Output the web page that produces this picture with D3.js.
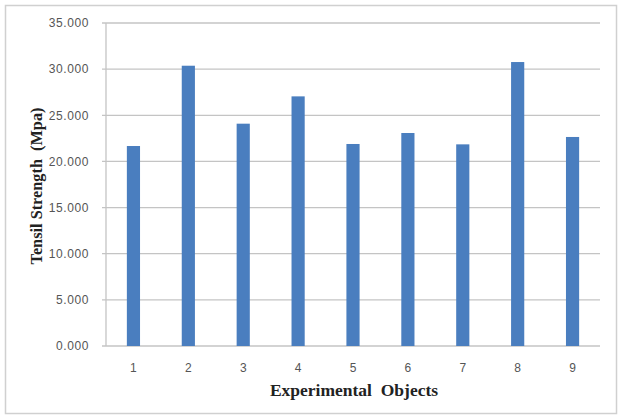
<!DOCTYPE html>
<html>
<head>
<meta charset="utf-8">
<script src="https://cdn.jsdelivr.net/npm/d3@7"></script>
<style>
  body { margin: 0; background: #fff; }
  svg { display: block; }
</style>
</head>
<body>
<div id="chart"></div>
<script>
// Chart data
const categories = ["1", "2", "3", "4", "5", "6", "7", "8", "9"];
const strengths = [21.67, 30.37, 24.09, 27.05, 21.89, 23.08, 21.85, 30.77, 22.65];
const yTicks = [0, 5, 10, 15, 20, 25, 30, 35];

const width = 623, height = 417;
const margin = { top: 23, right: 23, bottom: 71, left: 106 };

const svg = d3.select("#chart").append("svg")
  .attr("width", width)
  .attr("height", height);

// Outer frame
svg.append("rect")
  .attr("x", 5.5).attr("y", 5.5)
  .attr("width", 611).attr("height", 408)
  .attr("fill", "#fff")
  .attr("stroke", "#d0d0d0")
  .attr("stroke-width", 1.5);

const x = d3.scaleBand()
  .domain(categories)
  .range([margin.left, width - margin.right])
  .paddingInner(0.76)
  .paddingOuter(0.38);

const y = d3.scaleLinear()
  .domain([0, 35])
  .range([height - margin.bottom, margin.top]);

// Gridlines
svg.append("g")
  .selectAll("line")
  .data(yTicks)
  .join("line")
  .attr("x1", margin.left - 4)
  .attr("x2", width - margin.right)
  .attr("y1", d => y(d))
  .attr("y2", d => y(d))
  .attr("stroke", "#c4c4c4")
  .attr("stroke-width", 1.3);

// Y axis line
svg.append("line")
  .attr("x1", margin.left).attr("x2", margin.left)
  .attr("y1", y(35)).attr("y2", y(0))
  .attr("stroke", "#c4c4c4")
  .attr("stroke-width", 1.3);

// Bars
svg.append("g")
  .selectAll("rect")
  .data(strengths)
  .join("rect")
  .attr("x", (d, i) => x(categories[i]))
  .attr("width", x.bandwidth())
  .attr("y", d => y(d))
  .attr("height", d => y(0) - y(d))
  .attr("fill", "#4a7ebf");

// Y axis labels
const yAxis = svg.append("g")
  .attr("transform", `translate(${margin.left - 14},0)`)
  .call(d3.axisLeft(y).tickValues(yTicks).tickFormat(d3.format(".3f")).tickSize(0));
yAxis.select(".domain").remove();
yAxis.selectAll("text")
  .attr("font-family", "Liberation Sans, Arial, sans-serif")
  .attr("font-size", 12)
  .attr("letter-spacing", 0.6)
  .attr("fill", "#555");

// X axis labels
const xAxis = svg.append("g")
  .attr("transform", `translate(0,${y(0) + 14})`)
  .call(d3.axisBottom(x).tickSize(0));
xAxis.select(".domain").remove();
xAxis.selectAll("text")
  .attr("font-family", "Liberation Sans, Arial, sans-serif")
  .attr("font-size", 12)
  .attr("fill", "#555");

// Axis titles
svg.append("text")
  .attr("x", 354)
  .attr("y", 396)
  .attr("text-anchor", "middle")
  .attr("font-family", "Liberation Serif, Times New Roman, serif")
  .attr("font-weight", "bold")
  .attr("font-size", 17.5)
  .attr("fill", "#222")
  .attr("xml:space", "preserve")
  .text("Experimental  Objects");

svg.append("text")
  .attr("transform", `translate(42,186) rotate(-90)`)
  .attr("text-anchor", "middle")
  .attr("font-family", "Liberation Serif, Times New Roman, serif")
  .attr("font-weight", "bold")
  .attr("font-size", 16.3)
  .attr("fill", "#222")
  .attr("xml:space", "preserve")
  .text("Tensil Strength  (Mpa)");
</script>
</body>
</html>
